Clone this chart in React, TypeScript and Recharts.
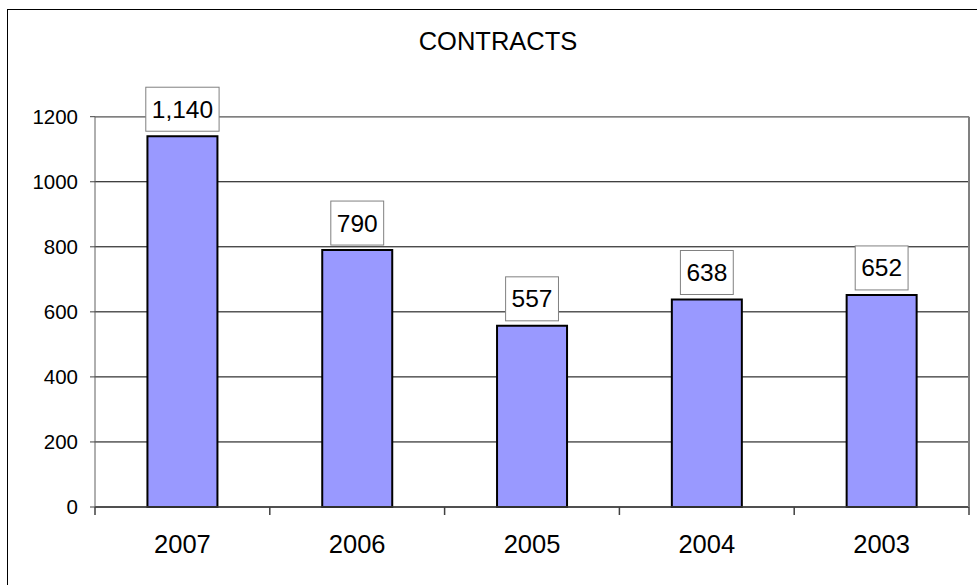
import React from 'react'
import { BarChart, Bar, XAxis, YAxis, CartesianGrid, LabelList, ReferenceLine } from 'recharts'

const years = ['2007', '2006', '2005', '2004', '2003']
const contracts = [1140, 790, 557, 638, 652]
const yTicks = [0, 200, 400, 600, 800, 1000, 1200]

const data = years.map((year, i) => ({ year, value: contracts[i] }))

const FONT = '"Liberation Sans", Arial, sans-serif'
const TICK_GAP = 28

const ValueBox = (props: any) => {
  const { x, y, width, value } = props
  const text = Number(value).toLocaleString('en-US')
  const fs = 24.5
  let tw = 0
  for (const ch of text) tw += ch === ',' ? 0.278 * fs : 0.556 * fs
  const bw = tw + 12
  const bh = 44
  const cx = x + width / 2
  const top = y - 5 - bh
  return (
    <g>
      <rect x={cx - bw / 2} y={top} width={bw} height={bh} fill="#fff" stroke="#808080" strokeWidth={1} />
      <text x={cx} y={top + bh / 2} textAnchor="middle" dominantBaseline="central" fontSize={fs} fontFamily={FONT} fill="#000">
        {text}
      </text>
    </g>
  )
}

// year label plus tick marks on the category boundaries
const YearTick = (props: any) => {
  const { x, y, width, visibleTicksCount, index, payload } = props
  const band = width / visibleTicksCount
  const axisY = y - TICK_GAP
  const left = x - band / 2
  return (
    <g>
      <line x1={left} x2={left} y1={axisY} y2={axisY + 8} stroke="#404040" strokeWidth={1.5} />
      {index === visibleTicksCount - 1 && (
        <line x1={left + band} x2={left + band} y1={axisY} y2={axisY + 8} stroke="#404040" strokeWidth={1.5} />
      )}
      <text x={x} y={y} dy="0.71em" textAnchor="middle" fontSize={25.5} fontFamily={FONT} fill="#000">
        {payload.value}
      </text>
    </g>
  )
}

export default function App() {
  return (
    <div style={{ position: 'absolute', left: 0, top: 0, width: 977, height: 585, overflow: 'hidden', background: '#fff' }}>
      <div style={{ position: 'absolute', left: 7, top: 9, width: 1100, height: 700, border: '1px solid #000' }} />
      <div style={{ position: 'absolute', left: 398, top: 27, width: 200, textAlign: 'center', fontFamily: FONT, fontSize: 25.5, color: '#000' }}>
        CONTRACTS
      </div>
      <BarChart
        width={977}
        height={585}
        data={data}
        margin={{ top: 116.7, right: 0, bottom: 0, left: 0 }}
        barCategoryGap="30%"
        style={{ position: 'absolute', left: 0, top: 0 }}
      >
        <CartesianGrid vertical={false} stroke="#000" strokeWidth={1} />
        <XAxis
          dataKey="year"
          tickLine={false}
          tickSize={0}
          tickMargin={TICK_GAP}
          height={78}
          interval={0}
          axisLine={{ stroke: '#404040', strokeWidth: 1.5 }}
          tick={YearTick}
        />
        <YAxis
          yAxisId={0}
          domain={[0, 1200]}
          ticks={yTicks}
          width={95}
          tickSize={5}
          tickMargin={12}
          axisLine={{ stroke: '#606060' }}
          tickLine={{ stroke: '#404040' }}
          tick={{ fontSize: 20.5, fontFamily: FONT, fill: '#000' }}
        />
        <YAxis
          yAxisId="r"
          orientation="right"
          domain={[0, 1200]}
          width={8}
          tick={false}
          tickLine={false}
          axisLine={{ stroke: '#808080', strokeWidth: 2 }}
        />
        <ReferenceLine y={1200} stroke="#808080" strokeWidth={1.5} />
        <Bar dataKey="value" fill="#9999FF" stroke="#000" strokeWidth={2} isAnimationActive={false}>
          <LabelList dataKey="value" content={ValueBox} />
        </Bar>
      </BarChart>
    </div>
  )
}
